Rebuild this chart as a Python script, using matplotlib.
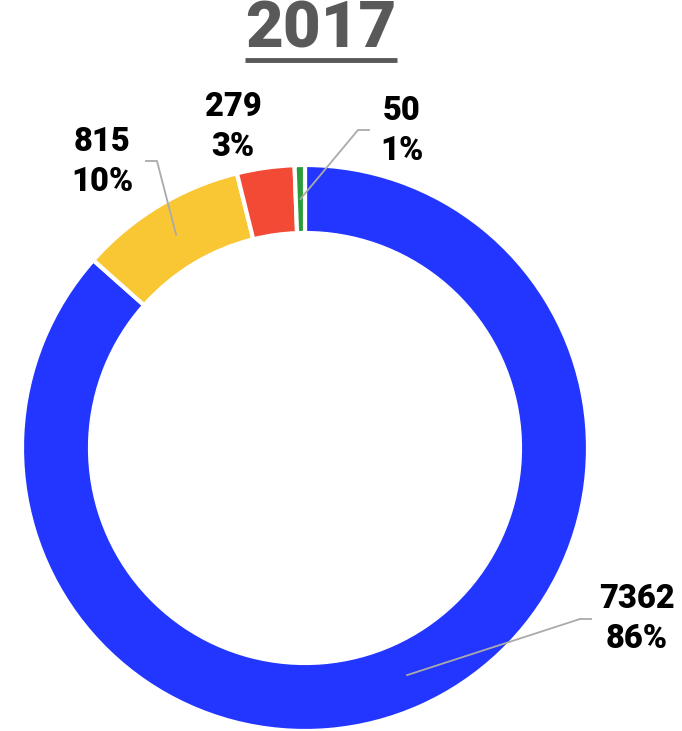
import numpy as np
import matplotlib
matplotlib.use('Agg')
import matplotlib.pyplot as plt

plt.rcParams['font.family'] = ['Roboto', 'DejaVu Sans']

# data (clockwise from 12 o'clock)
values = [7362, 815, 279, 50]
colors = ['#2236FF', '#F9C733', '#F24A35', '#2A9D3A']
title = '2017'

W, H = 682, 731
fig = plt.figure(figsize=(W / 100, H / 100), dpi=100)
ax = fig.add_axes([0, 0, 1, 1])

cx, cy = 305, H - 448
R, ring = 283, 68

wedges, _ = ax.pie(values, colors=colors, startangle=90, counterclock=False,
                   center=(cx, cy), radius=R, frame=True,
                   wedgeprops=dict(width=ring, edgecolor='white', linewidth=3))
ax.set_xlim(0, W)
ax.set_ylim(0, H)
ax.axis('off')

# percentages rounded so they add up to 100 (largest remainder)
raw = np.array(values) / sum(values) * 100
pcts = np.floor(raw).astype(int)
left = 100 - pcts.sum()
for i in np.argsort(-(raw - pcts))[:left]:
    pcts[i] += 1

# label layout: (elbow point, end of horizontal stub, text centre) in pixel coords, None = no leader
layout = [
    ((580, 619), (591, 619), (637, 619)),
    ((157, 161), (146, 161), (102, 162)),
    (None, None, (233, 127)),
    ((358, 130), (369, 130), (402, 131)),
]

for w, v, p, (elbow, stub, tpos) in zip(wedges, values, pcts, layout):
    mid = np.deg2rad((w.theta1 + w.theta2) / 2)
    rm = R - ring / 2
    ax_, ay_ = cx + rm * np.cos(mid), cy + rm * np.sin(mid)
    if elbow is not None:
        ax.plot([ax_, elbow[0], stub[0]], [ay_, H - elbow[1], H - stub[1]],
                color='#AAAAAA', lw=1.3, zorder=5)
    ax.text(tpos[0], H - tpos[1], f'{v}\n{p}%', ha='center', va='center',
            fontsize=23.5, fontweight='heavy', color='black', linespacing=1.3)

t = ax.text(321, H - 30, title, ha='center', va='center', fontsize=47,
            fontweight='heavy', color='#595959')
fig.canvas.draw()
bb = t.get_window_extent().transformed(ax.transData.inverted())
ax.plot([bb.x0, bb.x1], [H - 60, H - 60], color='#595959', lw=3.5, solid_capstyle='butt')

fig.savefig('out.png', dpi=100)
